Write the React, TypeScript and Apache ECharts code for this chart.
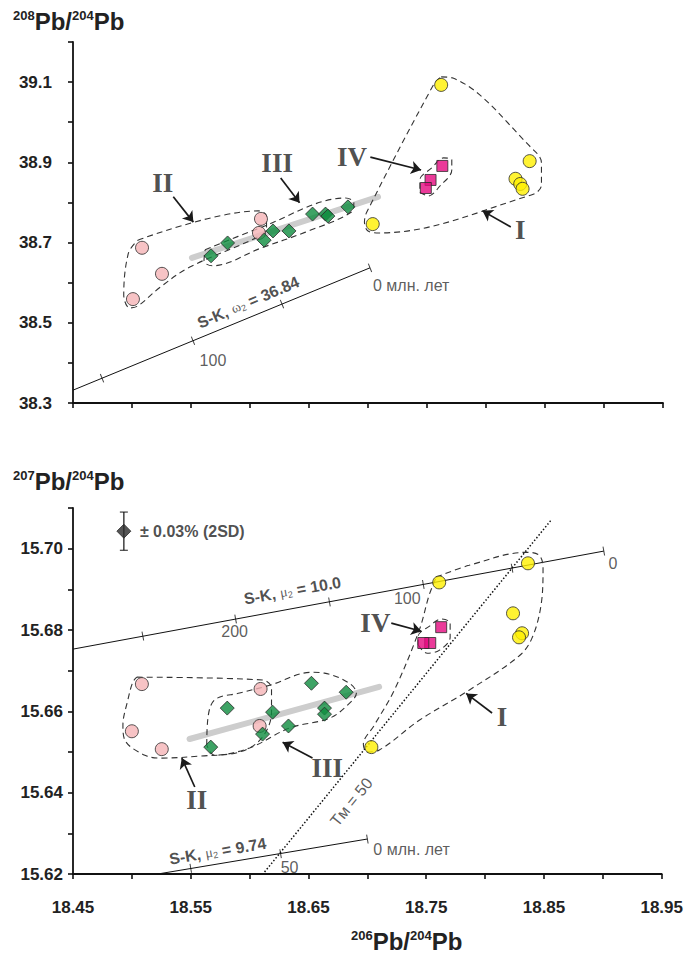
import React, { useEffect, useRef } from "react";
import * as echarts from "echarts";

// ---------- axes ----------
const X_MIN = 18.45;
const X_MAX = 18.95;
const TOP_Y_MIN = 38.3;
const TOP_Y_MAX = 39.2;
const BOT_Y_MIN = 15.62;
const BOT_Y_MAX = 15.71;

// ---------- top panel (208Pb/204Pb) ----------
const topII = [[18.5085, 38.687], [18.5254, 38.622], [18.5008, 38.559], [18.6093, 38.759], [18.6076, 38.724]];
const topIII = [[18.567, 38.667], [18.581, 38.699], [18.612, 38.706], [18.6195, 38.729], [18.633, 38.729], [18.653, 38.771], [18.664, 38.771], [18.666, 38.766], [18.683, 38.789]];
const topI = [[18.762, 39.093], [18.837, 38.903], [18.825, 38.859], [18.829, 38.846], [18.831, 38.834], [18.704, 38.746]];
const topIV = [[18.763, 38.891], [18.753, 38.856], [18.749, 38.836]];
const topTrend = [[18.5508, 38.662], [18.7085, 38.814]];
const topEnvII = [[18.505, 38.706], [18.607, 38.779], [18.614, 38.766], [18.614, 38.736], [18.608, 38.716], [18.549, 38.639], [18.524, 38.589], [18.505, 38.542], [18.498, 38.537], [18.493, 38.569], [18.497, 38.674], [18.505, 38.706]];
const topEnvIII = [[18.562, 38.682], [18.608, 38.736], [18.681, 38.811], [18.688, 38.799], [18.686, 38.776], [18.647, 38.726], [18.61, 38.687], [18.568, 38.642], [18.561, 38.654], [18.562, 38.682]];
const topEnvI = [[18.762, 39.113], [18.772, 39.11], [18.842, 38.926], [18.847, 38.899], [18.847, 38.844], [18.839, 38.819], [18.71, 38.724], [18.7, 38.729], [18.697, 38.751], [18.699, 38.776], [18.756, 39.096], [18.762, 39.113]];
const topEnvIV = [[18.744, 38.826], [18.751, 38.816], [18.761, 38.841], [18.771, 38.881], [18.771, 38.906], [18.764, 38.911], [18.754, 38.886], [18.744, 38.856], [18.744, 38.826]];
const topSK = [[18.45, 38.332], [18.7017, 38.637]];
const topSKTicks = [[18.4746, 38.3618], [18.5517, 38.4552], [18.6271, 38.5466], [18.7017, 38.637]];
const topArrows = [
  [[18.535, 38.814], [18.552, 38.751]],
  [[18.626, 38.861], [18.642, 38.799]],
  [[18.702, 38.913], [18.745, 38.881]],
  [[18.821, 38.739], [18.797, 38.779]],
];
const topRoman = [
  { text: "II", pos: [18.526, 38.849] },
  { text: "III", pos: [18.623, 38.899] },
  { text: "IV", pos: [18.6864, 38.913] },
  { text: "I", pos: [18.829, 38.731] },
];

// ---------- bottom panel (207Pb/204Pb) ----------
const botII = [[18.5085, 15.6667], [18.5, 15.6551], [18.5254, 15.6507], [18.6093, 15.6655], [18.6085, 15.6564]];
const botIII = [[18.567, 15.6512], [18.581, 15.6608], [18.611, 15.6544], [18.6195, 15.6598], [18.633, 15.6564], [18.6525, 15.6669], [18.6636, 15.6608], [18.6636, 15.6593], [18.682, 15.6647]];
const botI = [[18.761, 15.6917], [18.8364, 15.6964], [18.8237, 15.6841], [18.8314, 15.6792], [18.8288, 15.6782], [18.7034, 15.6512]];
const botIV = [[18.7627, 15.6807], [18.7534, 15.6768], [18.7475, 15.6768]];
const botTrend = [[18.549, 15.6532], [18.71, 15.666]];
const botEnvII = [[18.5042, 15.6684], [18.611, 15.6677], [18.6186, 15.6657], [18.6186, 15.6598], [18.6102, 15.6534], [18.5915, 15.65], [18.5576, 15.649], [18.5254, 15.6485], [18.511, 15.6492], [18.4941, 15.6529], [18.4924, 15.6566], [18.4966, 15.6628], [18.5008, 15.6672], [18.5042, 15.6684]];
const botEnvIII = [[18.5636, 15.6517], [18.5644, 15.6578], [18.5703, 15.6628], [18.5915, 15.6645], [18.617, 15.6664], [18.6525, 15.6696], [18.6636, 15.6694], [18.6847, 15.6669], [18.6907, 15.6645], [18.683, 15.6615], [18.6678, 15.6583], [18.6339, 15.6559], [18.6, 15.651], [18.5703, 15.6492], [18.5636, 15.6517]];
const botEnvI = [[18.7585, 15.693], [18.7864, 15.6959], [18.8347, 15.6991], [18.8458, 15.6984], [18.8492, 15.6954], [18.8475, 15.6861], [18.8398, 15.678], [18.8288, 15.6736], [18.7864, 15.6652], [18.7441, 15.6578], [18.7102, 15.6505], [18.7, 15.65], [18.6966, 15.6519], [18.7059, 15.6566], [18.7229, 15.6652], [18.7441, 15.68], [18.7525, 15.6886], [18.7585, 15.693]];
const botEnvIV = [[18.7432, 15.6763], [18.7508, 15.6743], [18.761, 15.675], [18.7703, 15.6782], [18.7703, 15.6817], [18.7627, 15.6827], [18.7525, 15.6809], [18.7432, 15.6785], [18.7432, 15.6763]];
const botSK100 = [[18.45, 15.6753], [18.9008, 15.6994]];
const botSK100Ticks = [[18.5093, 15.6785], [18.5881, 15.6827], [18.6678, 15.6869], [18.7475, 15.6912], [18.8229, 15.6952], [18.9008, 15.6994]];
const botSK974 = [[18.522, 15.62], [18.7, 15.6286]];
const botSK974Ticks = [[18.55, 15.6214], [18.6263, 15.625], [18.7, 15.6286]];
const botTm50 = [[18.6127, 15.6205], [18.856, 15.707]];
const errCenter = [18.4932, 15.7043];
const errHalf = 0.0047;
const botArrows = [
  [[18.5534, 15.6414], [18.5424, 15.6485]],
  [[18.6534, 15.6485], [18.628, 15.6524]],
  [[18.7203, 15.6817], [18.7458, 15.6797]],
  [[18.8059, 15.6596], [18.7839, 15.6644]],
];
const botRoman = [
  { text: "II", pos: [18.555, 15.6382] },
  { text: "III", pos: [18.666, 15.646] },
  { text: "IV", pos: [18.7068, 15.6817] },
  { text: "I", pos: [18.8144, 15.6586] },
];

const SANS = "'Liberation Sans', Arial, sans-serif";
const SERIF = "'Liberation Serif', 'Times New Roman', serif";
const INK = "#222";

const PINK = "#F5B4B6";
const GREEN = "#0E8C3E";
const YELLOW = "#FFF000";
const MAGENTA = "#E5097F";

function markers(name: string, data: number[][], gi: number, symbol: string, size: number, color: string) {
  return {
    name, type: "scatter", xAxisIndex: gi, yAxisIndex: gi, data, symbol, symbolSize: size,
    itemStyle: { color, borderColor: "#2a2a2a", borderWidth: 1 }, z: 10, silent: true,
  };
}
function envelope(data: number[][], gi: number) {
  return {
    type: "line", xAxisIndex: gi, yAxisIndex: gi, data, showSymbol: false, symbol: "none", smooth: 0.35,
    lineStyle: { color: "#333", width: 1.1, type: [6, 4] }, z: 4, silent: true,
  };
}
function solid(data: number[][], gi: number, width = 1, type: any = "solid") {
  return {
    type: "line", xAxisIndex: gi, yAxisIndex: gi, data, showSymbol: false, symbol: "none",
    lineStyle: { color: "#111", width, type }, z: 3, silent: true,
  };
}
function trend(data: number[][], gi: number) {
  return {
    type: "line", xAxisIndex: gi, yAxisIndex: gi, data, showSymbol: false, symbol: "none",
    lineStyle: { color: "#cdcdcd", width: 6, cap: "round" }, z: 2, silent: true,
  };
}
function ticks(data: number[][], gi: number, angle: number) {
  return {
    type: "scatter", xAxisIndex: gi, yAxisIndex: gi, data, symbol: "rect", symbolSize: [1, 9],
    symbolRotate: angle, itemStyle: { color: "#111" }, z: 5, silent: true,
  };
}
function arrows(list: number[][][], gi: number) {
  return {
    type: "lines", coordinateSystem: "cartesian2d", xAxisIndex: gi, yAxisIndex: gi,
    data: list.map((c) => ({ coords: c })), symbol: ["none", "arrow"], symbolSize: 10,
    lineStyle: { color: "#1a1a1a", width: 1.7, opacity: 1, curveness: 0 }, z: 8, silent: true,
  };
}
function textItem(pos: number[], label: any) {
  return { value: pos, label: { show: true, ...label } };
}
function texts(items: any[], gi: number) {
  return {
    type: "scatter", xAxisIndex: gi, yAxisIndex: gi, data: items, symbolSize: 0,
    itemStyle: { color: "rgba(0,0,0,0)" }, z: 12, silent: true,
  };
}
const romanLabel = (t: string) => ({
  formatter: t, position: "inside", fontFamily: SERIF, fontWeight: "bold", fontSize: 27, color: INK,
});
const numLabel = (t: string, extra: any = {}) => ({
  formatter: t, position: "inside", fontFamily: SANS, fontSize: 16, color: "#333", ...extra,
});
const skRich = {
  b: { fontFamily: SANS, fontWeight: "bold", fontSize: 16, color: INK },
  g: { fontFamily: SERIF, fontSize: 14, color: "#333" },
  s: { fontFamily: SANS, fontSize: 9, color: "#333", verticalAlign: "bottom", padding: [7, 0, 0, 0] },
};

const titleRich = {
  s: { fontFamily: SANS, fontWeight: "bold", fontSize: 13, color: INK, verticalAlign: "top", padding: [0, 0, 10, 0] },
  p: { fontFamily: SANS, fontWeight: "bold", fontSize: 24, color: INK },
};

function xAxis(gi: number, showLabels: boolean) {
  return {
    type: "value", gridIndex: gi, min: X_MIN, max: X_MAX, interval: 0.05,
    axisLine: { show: true, onZero: false, lineStyle: { color: "#111", width: 1.8 } },
    axisTick: { show: true, length: 5, lineStyle: { color: "#111", width: 1.6 } },
    splitLine: { show: false },
    axisLabel: {
      show: showLabels, margin: 25, fontFamily: SANS, fontWeight: "bold", fontSize: 17, color: INK,
      formatter: (v: number) => (Math.round(v * 100) % 10 === 5 ? v.toFixed(2) : ""),
    },
  };
}
function yAxis(gi: number, min: number, max: number, interval: number, margin: number, fmt: (v: number) => string) {
  return {
    type: "value", gridIndex: gi, min, max, interval,
    axisLine: { show: true, onZero: false, lineStyle: { color: "#111", width: 1.8 } },
    axisTick: { show: true, length: 5, lineStyle: { color: "#111", width: 1.6 } },
    splitLine: { show: false },
    axisLabel: { margin, fontFamily: SANS, fontWeight: "bold", fontSize: 17, color: INK, formatter: fmt },
  };
}

export default function App() {
  const ref = useRef<HTMLDivElement>(null);
  useEffect(() => {
    document.body.style.margin = "0";
    if (!ref.current) return;
    const chart = echarts.init(ref.current, null, { renderer: "svg" });
    const option: any = {
      animation: false,
      backgroundColor: "#fff",
      title: [
        { text: "{s|208}{p|Pb/}{s|204}{p|Pb}", left: 8, top: 4, textStyle: { rich: titleRich } },
        { text: "{s|207}{p|Pb/}{s|204}{p|Pb}", left: 8, top: 464, textStyle: { rich: titleRich } },
        { text: "{s|206}{p|Pb/}{s|204}{p|Pb}", left: 346, top: 924, textStyle: { rich: titleRich } },
      ],
      grid: [
        { left: 73, top: 42, width: 590, height: 361 },
        { left: 73, top: 508, width: 590, height: 366 },
      ],
      xAxis: [xAxis(0, false), xAxis(1, true)],
      yAxis: [
        yAxis(0, TOP_Y_MIN, TOP_Y_MAX, 0.1, 21, (v) => (Math.round(v * 10) % 2 === 1 ? v.toFixed(1) : "")),
        yAxis(1, BOT_Y_MIN, BOT_Y_MAX, 0.01, 10, (v) => (Math.round(v * 100) % 2 === 0 ? v.toFixed(2) : "")),
      ],
      series: [
        // ---- top ----
        trend(topTrend, 0),
        solid(topSK, 0),
        ticks(topSKTicks, 0, 22),
        envelope(topEnvII, 0),
        envelope(topEnvIII, 0),
        envelope(topEnvI, 0),
        envelope(topEnvIV, 0),
        arrows(topArrows, 0),
        markers("II", topII, 0, "circle", 13, PINK),
        markers("III", topIII, 0, "diamond", 14, GREEN),
        markers("I", topI, 0, "circle", 13, YELLOW),
        markers("IV", topIV, 0, "rect", 11, MAGENTA),
        texts(
          [
            ...topRoman.map((r) => textItem(r.pos, romanLabel(r.text))),
            textItem([18.5686, 38.407], numLabel("100")),
            textItem([18.7042, 38.592], numLabel("0 млн. лет", { position: "right", distance: 0 })),
            textItem([18.5985, 38.551], {
              formatter: "{b|S-K, }{g|ω}{s|2}{b| = 36.84}", position: "inside", rotate: 23, rich: skRich,
            }),
          ],
          0
        ),
        // ---- bottom ----
        trend(botTrend, 1),
        solid(botSK100, 1),
        ticks(botSK100Ticks, 1, 10.4),
        solid(botSK974, 1),
        ticks(botSK974Ticks, 1, 9.5),
        solid(botTm50, 1, 1.5, [1.5, 2]),
        envelope(botEnvII, 1),
        envelope(botEnvIII, 1),
        envelope(botEnvI, 1),
        envelope(botEnvIV, 1),
        arrows(botArrows, 1),
        solid([[errCenter[0], errCenter[1] - errHalf], [errCenter[0], errCenter[1] + errHalf]], 1, 1.2),
        {
          type: "scatter", xAxisIndex: 1, yAxisIndex: 1,
          data: [[errCenter[0], errCenter[1] - errHalf], [errCenter[0], errCenter[1] + errHalf]],
          symbol: "rect", symbolSize: [8, 1.2], itemStyle: { color: "#111" }, z: 6, silent: true,
        },
        markers("err", [errCenter], 1, "diamond", 14, "#2a2a2a"),
        markers("II", botII, 1, "circle", 13, PINK),
        markers("III", botIII, 1, "diamond", 14, GREEN),
        markers("I", botI, 1, "circle", 13, YELLOW),
        markers("IV", botIV, 1, "rect", 11, MAGENTA),
        texts(
          [
            ...botRoman.map((r) => textItem(r.pos, romanLabel(r.text))),
            textItem([18.5873, 15.6797], numLabel("200")),
            textItem([18.7339, 15.6878], numLabel("100")),
            textItem([18.9085, 15.6964], numLabel("0")),
            textItem([18.6339, 15.6217], numLabel("50")),
            textItem([18.7051, 15.6261], numLabel("0 млн. лет", { position: "right", distance: 0 })),
            textItem([18.6864, 15.6377], numLabel("Tм = 50", { rotate: 51 })),
            textItem([18.5068, 15.7043], {
              formatter: "± 0.03% (2SD)", position: "right", distance: 0, fontFamily: SANS, fontWeight: "bold", fontSize: 16, color: INK,
            }),
            textItem([18.6364, 15.6897], {
              formatter: "{b|S-K, }{g|μ}{s|2}{b| = 10.0}", position: "inside", rotate: 10, rich: skRich,
            }),
            textItem([18.5729, 15.6256], {
              formatter: "{b|S-K, }{g|μ}{s|2}{b| = 9.74}", position: "inside", rotate: 9.5, rich: skRich,
            }),
          ],
          1
        ),
      ],
    };
    chart.setOption(option);
    return () => chart.dispose();
  }, []);
  return <div ref={ref} style={{ width: 686, height: 954 }} />;
}
